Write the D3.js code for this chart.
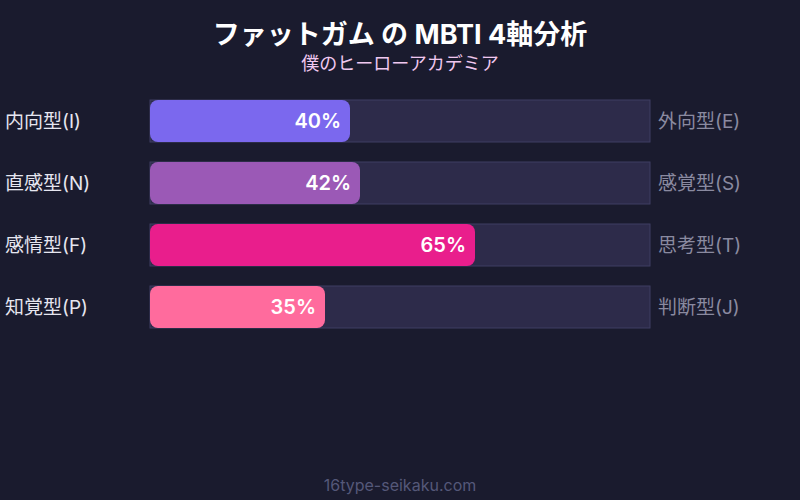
<!DOCTYPE html>
<html>
<head>
<meta charset="utf-8">
<script src="https://cdn.jsdelivr.net/npm/d3@7"></script>
<style>
  html, body { margin: 0; padding: 0; background: #1a1b2e; }
  svg { display: block; font-family: Inter, "Noto Sans CJK JP", sans-serif; }
</style>
</head>
<body>
<div class="chart"></div>
<script>
const leftLabels = ["内向型(I)", "直感型(N)", "感情型(F)", "知覚型(P)"];
const rightLabels = ["外向型(E)", "感覚型(S)", "思考型(T)", "判断型(J)"];
const values = [40, 42, 65, 35];
const colors = ["#7b68ee", "#9b59b6", "#e91e8c", "#ff6b9d"];

const width = 800;
const height = 500;

const data = leftLabels.map((d, i) => ({
  left: d, right: rightLabels[i], value: values[i], color: colors[i]
}));

const svg = d3.select(".chart")
  .append("svg")
  .attr("width", width)
  .attr("height", height);

svg.append("rect")
  .attr("width", width)
  .attr("height", height)
  .attr("fill", "#1a1b2e");

svg.append("text")
  .attr("x", 400)
  .attr("y", 44)
  .attr("text-anchor", "middle")
  .attr("fill", "#ffffff")
  .attr("font-size", "27px")
  .attr("font-weight", "bold")
  .text("ファットガム の MBTI 4軸分析");

svg.append("text")
  .attr("x", 400)
  .attr("y", 70)
  .attr("text-anchor", "middle")
  .attr("fill", "#f0c8f0")
  .attr("font-size", "18px")
  .text("僕のヒーローアカデミア");

const xScale = d3.scaleLinear().domain([0, 100]).range([150, 650]);

// 42px bars, 62px step
const yScale = d3.scaleBand()
  .domain(d3.range(data.length))
  .range([100, 328])
  .paddingInner(20 / 62)
  .paddingOuter(0);

const rows = svg.selectAll(".row")
  .data(data)
  .join("g")
  .attr("class", "row")
  .attr("transform", (d, i) => `translate(0, ${yScale(i)})`);

const bh = yScale.bandwidth();

rows.append("rect")
  .attr("x", xScale(0))
  .attr("width", xScale(100) - xScale(0))
  .attr("height", bh)
  .attr("fill", "#2d2b4a")
  .attr("stroke", "#3f3e62")
  .attr("stroke-width", 1);

rows.append("rect")
  .attr("x", xScale(0))
  .attr("width", d => xScale(d.value) - xScale(0))
  .attr("height", bh)
  .attr("rx", 8)
  .attr("fill", d => d.color);

rows.append("text")
  .attr("x", d => xScale(d.value) - 9)
  .attr("y", bh / 2)
  .attr("dy", "0.35em")
  .attr("text-anchor", "end")
  .attr("fill", "#ffffff")
  .attr("font-size", "20px")
  .attr("font-weight", "600")
  .text(d => d.value + "%");

rows.append("text")
  .attr("x", 5)
  .attr("y", bh / 2)
  .attr("dy", "0.35em")
  .attr("fill", "#e6e6f0")
  .attr("font-size", "19px")
  .text(d => d.left);

rows.append("text")
  .attr("x", 658)
  .attr("y", bh / 2)
  .attr("dy", "0.35em")
  .attr("fill", "#8a8aa0")
  .attr("font-size", "19px")
  .text(d => d.right);

svg.append("text")
  .attr("x", 400)
  .attr("y", 491)
  .attr("text-anchor", "middle")
  .attr("fill", "#555879")
  .attr("font-size", "16px")
  .text("16type-seikaku.com");
</script>
</body>
</html>
